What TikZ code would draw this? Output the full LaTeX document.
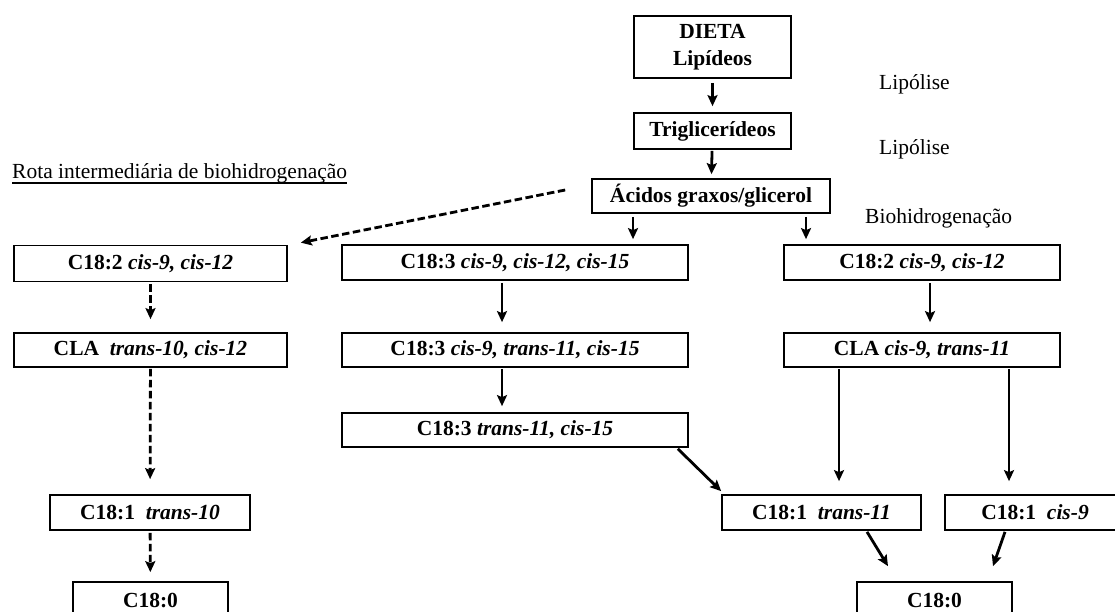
\documentclass[tikz,border=0pt]{standalone}
\usepackage{fontspec}
\setmainfont{Liberation Serif}
\usetikzlibrary{arrows.meta,calc}
\begin{document}
\begin{tikzpicture}[x=1pt,y=-1pt,
  box/.style={draw,line width=1.7pt,inner sep=0pt,minimum height=35pt,
    font=\fontsize{21.5}{27}\selectfont\bfseries,align=center},
  arr/.style={line width=2.8pt,-{Stealth[length=11pt,width=10pt,inset=2pt]}},
  darr/.style={arr,dash pattern=on 7.5pt off 3.5pt},
  lbl/.style={inner sep=0pt,font=\fontsize{21.5}{24}\selectfont}]
\fill[white] (0,0) rectangle (1115,612);
\useasboundingbox (0,0) rectangle (1115,612);
\clip (0,0) rectangle (1115,612);

% helper x positions
\coordinate (ca) at (633,0);
\coordinate (cb) at (806,0);
\coordinate (cm) at (502,0);
\coordinate (cr) at (930,0);
\coordinate (cs) at (839,0);
\coordinate (ct) at (1009,0);

% top chain
\node[box,minimum width=157pt,minimum height=62pt] (diet) at (712.5,47) {DIETA\\Lipídeos};
\node[box,minimum width=157pt,minimum height=36pt] (trig) at (712.5,131) {Triglicerídeos};
\node[box,minimum width=238pt,minimum height=34pt] (acid) at (711,196) {Ácidos graxos/glicerol};

% left column
\node[box,minimum width=273pt,minimum height=36pt] (L1) at (150.5,263.5) {C18:2 \textit{cis-9, cis-12}};
\node[box,minimum width=273pt,minimum height=34pt] (L2) at (150.5,350) {CLA\ \ \textit{trans-10, cis-12}};
\node[box,minimum width=200pt] (L3) at (150,512.5) {C18:1\ \ \textit{trans-10}};
\node[box,minimum width=155pt,minimum height=36pt] (L4) at (150.5,600) {C18:0};

% middle column
\node[box,minimum width=346pt] (M1) at (515,262.5) {C18:3 \textit{cis-9, cis-12, cis-15}};
\node[box,minimum width=346pt,minimum height=34pt] (M2) at (515,350) {C18:3 \textit{cis-9, trans-11, cis-15}};
\node[box,minimum width=346pt,minimum height=34pt] (M3) at (515,430) {C18:3 \textit{trans-11, cis-15}};

% right column
\node[box,minimum width=276pt] (R1) at (922,262.5) {C18:2 \textit{cis-9, cis-12}};
\node[box,minimum width=276pt,minimum height=34pt] (R2) at (922,350) {CLA \textit{cis-9, trans-11}};
\node[box,minimum width=199pt] (R3) at (821.5,512.5) {C18:1\ \ \textit{trans-11}};
\node[box,minimum width=180pt] (R4) at (1035,512.5) {C18:1\ \ \textit{cis-9}};
\node[box,minimum width=155pt,minimum height=36pt] (R5) at (934.5,600) {C18:0};

% labels
\node[lbl,anchor=west] (lip1) at (879,84) {Lipólise};
\node[lbl,anchor=west] (lip2) at (879,149) {Lipólise};
\node[lbl,anchor=west] (bio) at (865,218) {Biohidrogenação};
\node[lbl,anchor=base west] (rota) at (12,179) {Rota intermediária de biohidrogenação};
\draw[line width=1.2pt] ($(rota.base west)+(0,4)$) -- ($(rota.base east)+(0,4)$);

% top arrows
\draw[arr,shorten <=4pt,shorten >=6pt] (diet) -- (trig);
\draw[arr,shorten <=1pt,shorten >=4pt] (trig) -- (acid);
\draw[arr,shorten <=3pt,shorten >=5pt] (acid.south -| ca) -- (M1.north -| ca);
\draw[arr,shorten <=3pt,shorten >=5pt] (acid.south -| cb) -- (R1.north -| cb);
\draw[darr] ($(acid.west)+(-26,-6)$) -- ($(L1.north east)+(13,-2)$);

% left column arrows
\draw[darr,shorten <=2pt,shorten >=13pt] (L1) -- (L2);
\draw[darr,shorten <=1pt,shorten >=15pt] (L2) -- (L3);
\draw[darr,shorten <=2pt,shorten >=9pt] (L3) -- (L4);

% middle column arrows
\draw[arr,shorten <=2pt,shorten >=10pt] (M1.south -| cm) -- (M2.north -| cm);
\draw[arr,shorten <=1pt,shorten >=6pt] (M2.south -| cm) -- (M3.north -| cm);
\draw[arr] ($(M3.south east)+(-11,1)$) -- ($(R3.north west)+(0,-3)$);

% right column arrows
\draw[arr,shorten <=2pt,shorten >=10pt] (R1.south -| cr) -- (R2.north -| cr);
\draw[arr,shorten <=1pt,shorten >=13pt] (R2.south -| cs) -- (R3.north -| cs);
\draw[arr,shorten <=1pt,shorten >=13pt] (R2.south -| ct) -- (R4.north -| ct);
\draw[arr] ($(R3.south)+(45.5,1)$) -- ($(R5.north)+(-46.5,-15)$);
\draw[arr] ($(R4.south)+(-30,1)$) -- ($(R5.north)+(58.5,-15)$);
\end{tikzpicture}
\end{document}
